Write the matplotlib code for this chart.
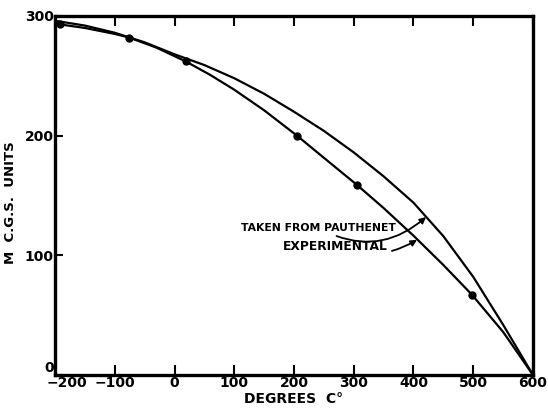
import numpy as np
import matplotlib.pyplot as plt
import matplotlib.transforms as mtransforms

# valores
temp_pauth = [-200, -150, -100, -50, 0, 50, 100, 150, 200, 250, 300, 350, 400, 450, 500, 550, 600]
m_pauth = [296, 292, 286, 278, 268, 259, 248, 235, 220, 204, 186, 166, 144, 116, 82, 42, 0]

temp_exp = [-200, -192, -150, -100, -76, -30, 19, 60, 100, 150, 205, 250, 305, 350, 400, 450, 498, 550, 600]
m_exp = [294, 293, 290, 285, 282, 273.5, 262, 250.7, 238.4, 221.2, 200, 181.5, 159, 139.5, 116.4, 91.9, 67, 36, 0]

temp_dots = [-192, -76, 19, 205, 305, 498]
m_dots = [293, 282, 262, 200, 159, 67]

x_ticks = [-200, -100, 0, 100, 200, 300, 400, 500, 600]
y_ticks = [0, 100, 200, 300]

plt.rcParams['font.family'] = 'DejaVu Sans'
plt.rcParams['font.weight'] = 'bold'

fig = plt.figure(figsize=(5.48, 4.08), dpi=100)
ax = fig.add_axes([0.1004, 0.0809, 0.8722, 0.8799])

ax.plot(temp_pauth, m_pauth, color='black', linewidth=1.6)
ax.plot(temp_exp, m_exp, color='black', linewidth=1.6)
ax.plot(temp_dots, m_dots, 'o', color='black', markersize=5)

ax.set_xlim(-200, 600)
ax.set_ylim(0, 300)
ax.set_xticks(x_ticks)
ax.set_yticks(y_ticks)
ax.tick_params(axis='x', direction='in', length=7, width=1.5, top=True,
               labelsize=10, pad=1)
ax.tick_params(axis='y', direction='in', length=6, width=1.5,
               labelsize=10, pad=1)
for lab in ax.get_xticklabels() + ax.get_yticklabels():
    lab.set_fontweight('bold')

# corrimientos en la esquina: -200 a la derecha, 0 hacia arriba
dx = mtransforms.ScaledTranslation(0.12, 0, fig.dpi_scale_trans)
lab_x0 = ax.get_xticklabels()[0]
lab_x0.set_transform(lab_x0.get_transform() + dx)
dy = mtransforms.ScaledTranslation(0, 0.08, fig.dpi_scale_trans)
lab_y0 = ax.get_yticklabels()[0]
lab_y0.set_transform(lab_y0.get_transform() + dy)

for s in ax.spines.values():
    s.set_linewidth(2.4)

ax.set_xlabel('DEGREES  C°', fontsize=10, fontweight='bold', labelpad=1)
ax.set_ylabel('M  C.G.S.  UNITS', fontsize=9.5, fontweight='bold')
ax.yaxis.set_label_coords(-0.08, 0.48)

# flechas con texto
ax.annotate('TAKEN FROM PAUTHENET', xy=(421, 132), xytext=(371, 123),
            ha='right', va='center', fontsize=7.8, fontweight='bold',
            arrowprops=dict(arrowstyle='-|>', color='black', lw=1.3,
                            connectionstyle='arc3,rad=0.35', shrinkA=1, shrinkB=0,
                            mutation_scale=9))
ax.annotate('EXPERIMENTAL', xy=(406, 113), xytext=(357, 107),
            ha='right', va='center', fontsize=8.8, fontweight='bold',
            arrowprops=dict(arrowstyle='-|>', color='black', lw=1.3,
                            connectionstyle='arc3,rad=0.25', shrinkA=1, shrinkB=0,
                            mutation_scale=9))

plt.savefig('out.png', dpi=100)
